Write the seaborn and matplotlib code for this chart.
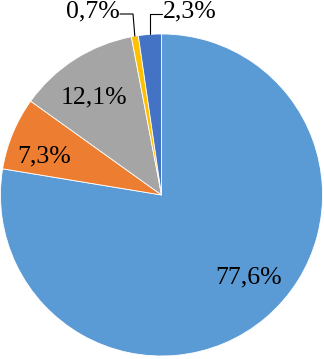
import numpy as np
import matplotlib
matplotlib.use("Agg")
import matplotlib.pyplot as plt
import seaborn as sns

sns.set_style("white")
plt.rcParams['font.family'] = ['Liberation Serif', 'DejaVu Serif']

values = [77.6, 7.3, 12.1, 0.7, 2.3]
labels = ["77,6%", "7,3%", "12,1%", "0,7%", "2,3%"]
colors = ["#5B9BD5", "#ED7D31", "#A5A5A5", "#FFC000", "#4472C4"]

fig = plt.figure(figsize=(3.24, 3.59), dpi=100)
ax = fig.add_axes([0, 0, 1, 1])
wedges, _ = ax.pie(values, colors=colors, startangle=90, counterclock=False,
                   radius=1.0, wedgeprops=dict(edgecolor="white", linewidth=0.6))
ax.set_aspect("auto")
ax.set_xlim(-1.003, 1.009)
ax.set_ylim(-1.0186, 1.211)
ax.axis("off")

fs = 18.5
# inner labels (placed like Excel best fit)
inner = {0: (0.540, -0.510), 1: (-0.727, 0.240), 2: (-0.422, 0.606)}
for i, (x, y) in inner.items():
    ax.text(x, y, labels[i], ha="center", va="center", fontsize=fs, color="black")

# small slices with leader lines
def mid_angle(w):
    return np.deg2rad((w.theta1 + w.theta2) / 2)

a3 = mid_angle(wedges[3])
p3 = (np.cos(a3), np.sin(a3))
ax.plot([p3[0], -0.177, -0.258], [p3[1], 1.124, 1.124], color="black", lw=0.8)
ax.text(-0.262, 1.140, labels[3], ha="right", va="center", fontsize=fs, color="black")

a4 = mid_angle(wedges[4])
p4 = (np.cos(a4), np.sin(a4))
ax.plot([p4[0], p4[0], 0.0], [p4[1], 1.124, 1.124], color="black", lw=0.8)
ax.text(0.008, 1.140, labels[4], ha="left", va="center", fontsize=fs, color="black")

fig.savefig("out.png", dpi=100)
